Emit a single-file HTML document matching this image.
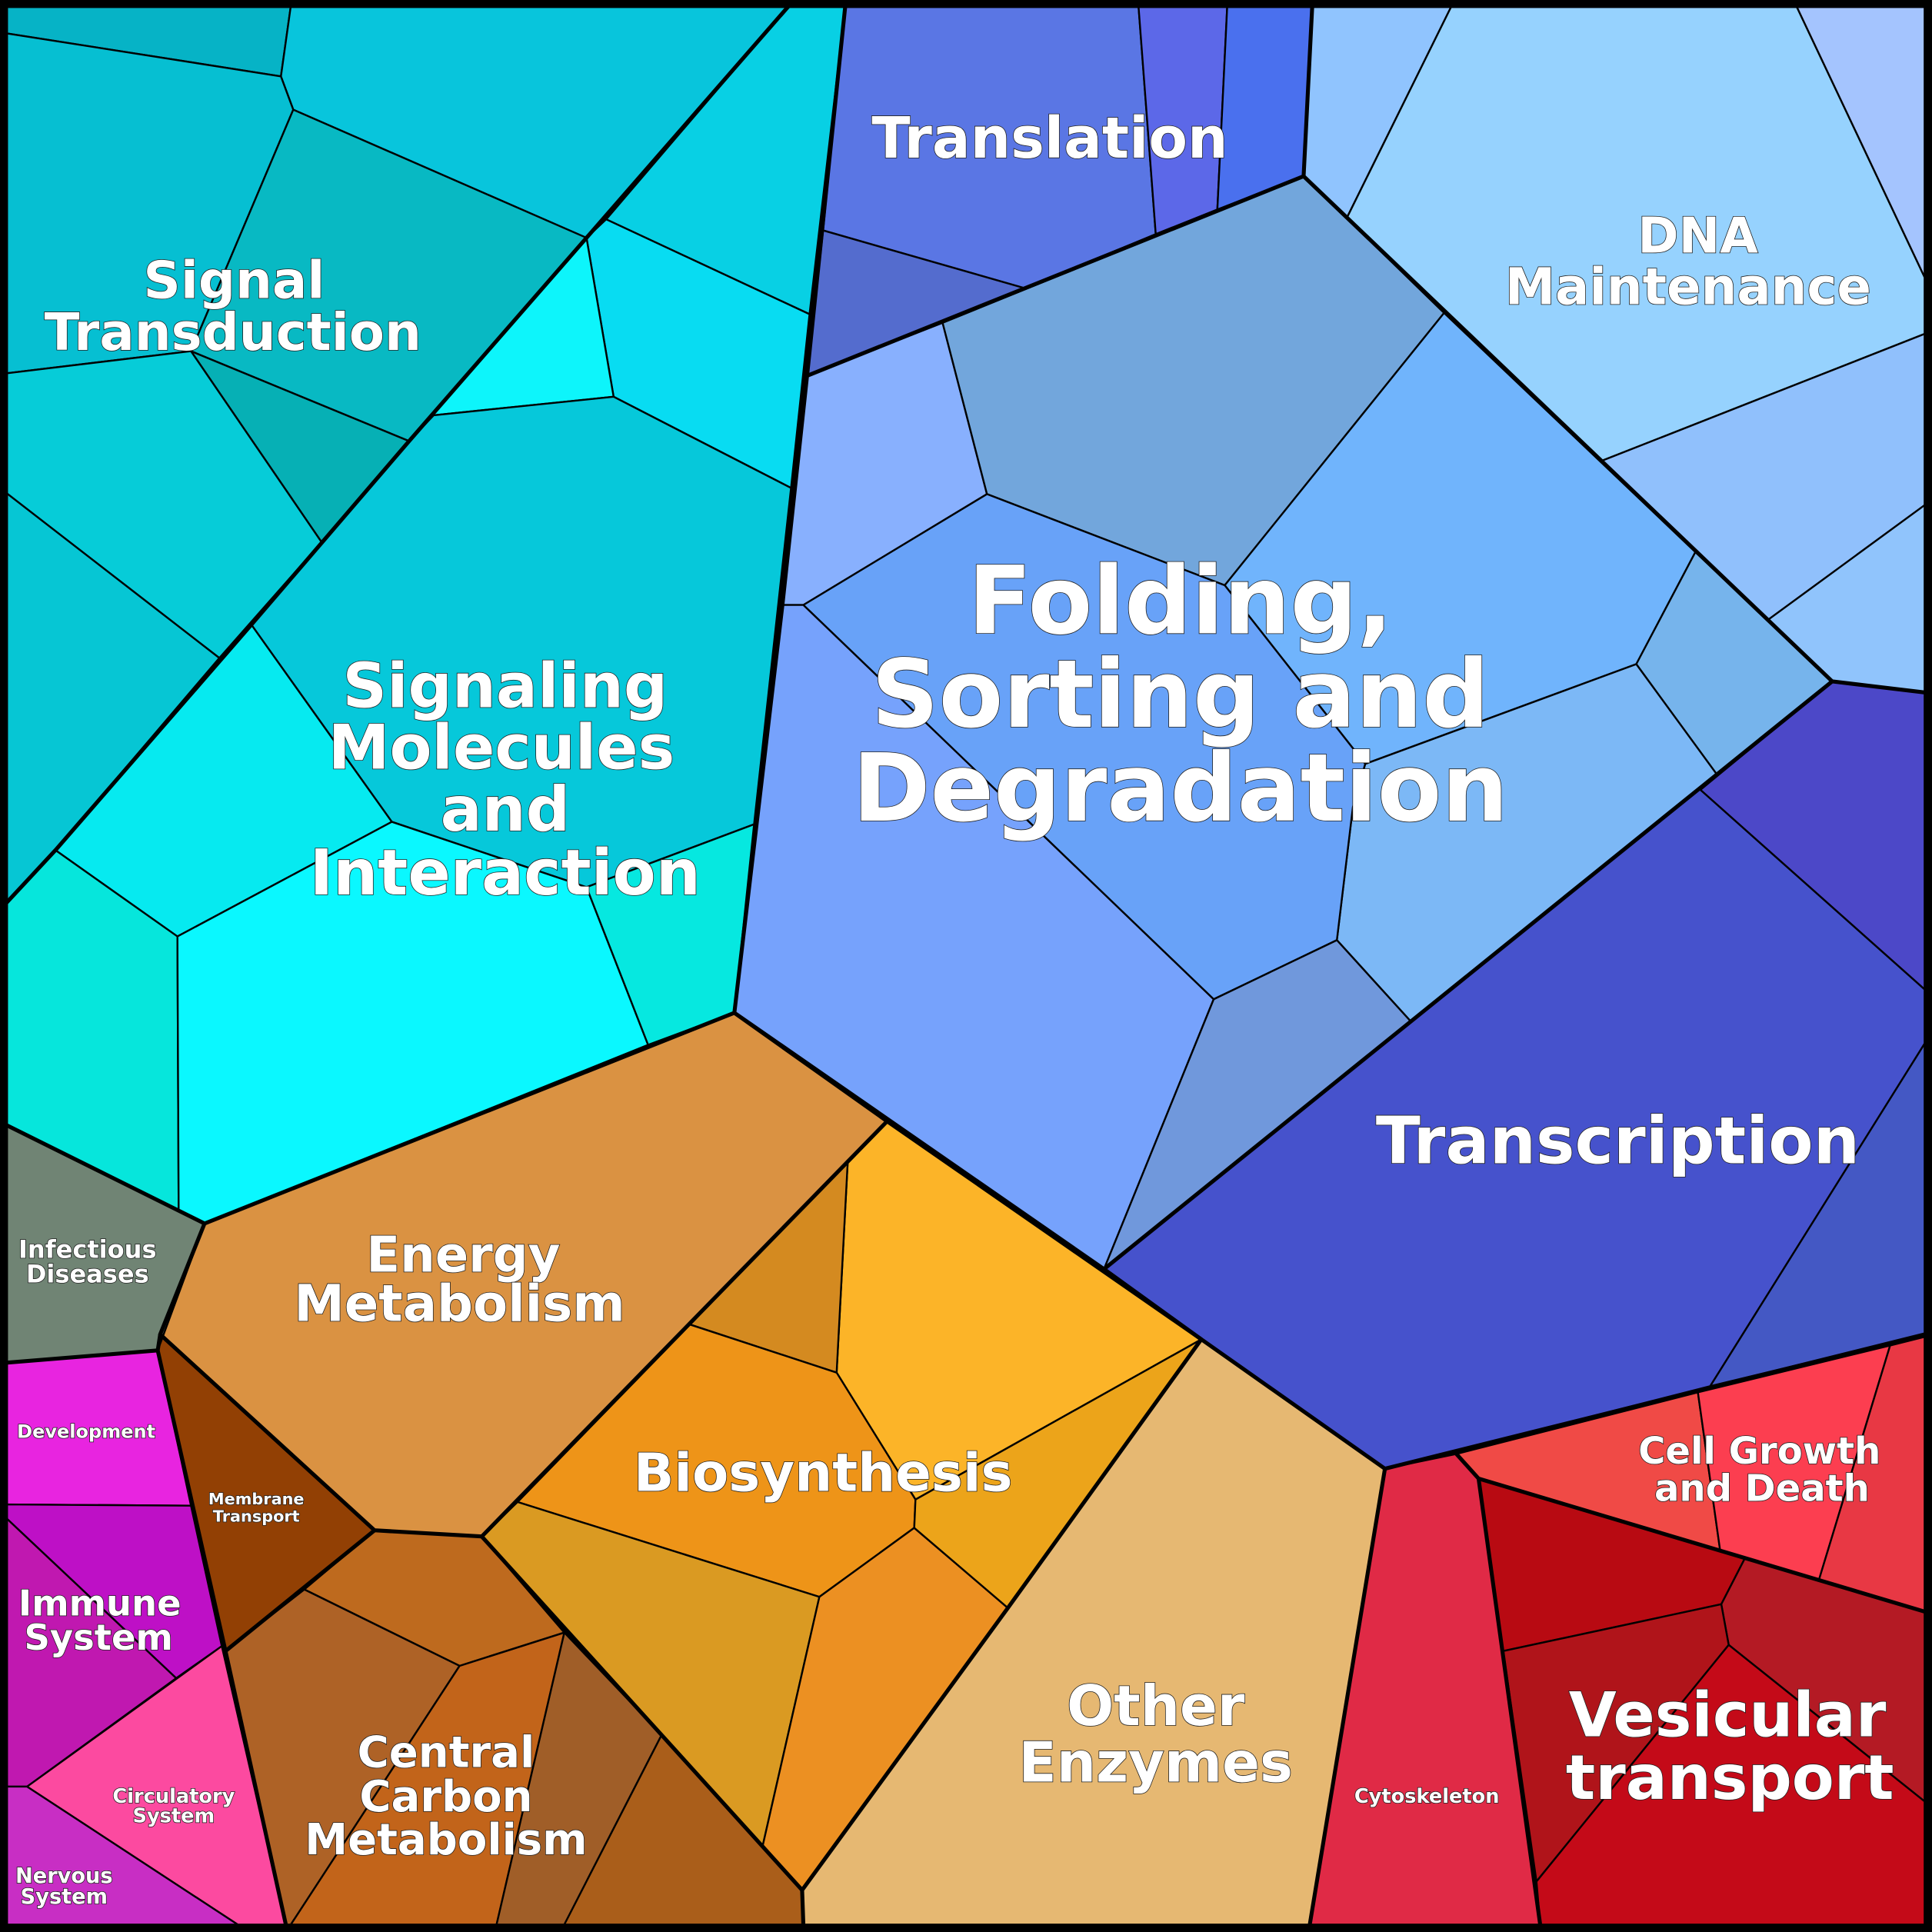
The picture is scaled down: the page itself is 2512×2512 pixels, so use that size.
<!DOCTYPE html>
<html><head><meta charset="utf-8"><style>
html,body{margin:0;padding:0;background:#000;}
svg{display:block;}
text{font-family:"DejaVu Sans","Liberation Sans",sans-serif;font-weight:bold;fill:#fff;stroke:#222;stroke-width:1;paint-order:stroke;text-anchor:middle;}
</style></head><body>
<svg width="2512" height="2512" viewBox="0 0 1568 1568" xmlns="http://www.w3.org/2000/svg">
<rect x="0" y="0" width="1568" height="1568" fill="#000"/>
<g stroke="#000" stroke-width="1.5" stroke-linejoin="round">
<polygon fill="#06b3c6" points="5,5 236,5 228,62 5,27"/>
<polygon fill="#08c5dc" points="236,5 640,5 476,193 238,89 228,62"/>
<polygon fill="#06bfd2" points="5,27 228,62 238,89 155,285 5,303"/>
<polygon fill="#08b9c3" points="238,89 476,193 332,358 155,285"/>
<polygon fill="#06b0b5" points="155,285 332,358 261,440"/>
<polygon fill="#06ccd8" points="5,303 155,285 261,440 178,534 5,400"/>
<polygon fill="#06c6d4" points="5,400 178,534 45,690 5,733"/>
<polygon fill="#08d0e4" points="640,5 686,5 657,255 492,178"/>
<polygon fill="#08dcf2" points="492,178 657,255 642,396 498,322 476,193"/>
<polygon fill="#0df5fb" points="476,193 498,322 352,337 332,358"/>
<polygon fill="#06c8da" points="352,337 498,322 642,396 612,669 476,720 318,667 204,507 332,358"/>
<polygon fill="#06eaf0" points="204,507 318,667 144,760 45,690"/>
<polygon fill="#06e6dc" points="45,690 144,760 145,983 5,913 5,733"/>
<polygon fill="#0af8ff" points="144,760 318,667 476,720 526,848 166,993 145,983"/>
<polygon fill="#06e8e0" points="476,720 612,669 596,822 526,848"/>
<polygon fill="#5a76e4" points="686,5 924,5 938,190 832,234 668,187"/>
<polygon fill="#5c68e8" points="924,5 996,5 988,170 938,190"/>
<polygon fill="#4a70ee" points="996,5 1065,5 1058,143 988,170"/>
<polygon fill="#546cce" points="668,187 832,234 655,305"/>
<polygon fill="#90c4fe" points="1065,5 1178,5 1093,177 1058,143"/>
<polygon fill="#96d2fe" points="1178,5 1458,5 1562,225 1562,271 1300,374 1172,254 1093,177"/>
<polygon fill="#a4c4fe" points="1458,5 1562,5 1562,225"/>
<polygon fill="#90c0fc" points="1300,374 1562,271 1562,410 1435,503 1376,448"/>
<polygon fill="#90c4fc" points="1435,503 1562,410 1562,562 1487,553"/>
<polygon fill="#88b0fe" points="655,305 765,262 801,401 652,491 635,491"/>
<polygon fill="#72a6dc" points="765,262 1058,143 1172,254 994,475 801,401"/>
<polygon fill="#70b4fc" points="1172,254 1376,448 1328,539 1108,620 994,475"/>
<polygon fill="#76b4ec" points="1376,448 1487,553 1393,628 1328,539"/>
<polygon fill="#7cb8f6" points="1108,620 1328,539 1393,628 1145,829 1085,763 1098,655"/>
<polygon fill="#68a2f8" points="652,491 801,401 994,475 1108,620 1098,655 1085,763 985,811"/>
<polygon fill="#76a2fc" points="635,491 652,491 985,811 896,1030 596,822"/>
<polygon fill="#7098dc" points="985,811 1085,763 1145,829 896,1030"/>
<polygon fill="#4c48c8" points="1487,553 1562,562 1562,803 1380,641"/>
<polygon fill="#4652cc" points="1380,641 1562,803 1562,847 1388,1125 1124,1192 896,1030 1145,829 1393,628 1487,553"/>
<polygon fill="#4458c4" points="1562,847 1562,1083 1388,1125"/>
<polygon fill="#f04a46" points="1182,1180 1378,1130 1396,1258 1200,1200"/>
<polygon fill="#fc3e50" points="1378,1130 1534,1092 1476,1283 1396,1258"/>
<polygon fill="#e83844" points="1534,1092 1562,1085 1562,1308 1476,1283"/>
<polygon fill="#e02a46" points="1124,1192 1182,1180 1200,1200 1250,1562 1063,1562"/>
<polygon fill="#b80a12" points="1200,1200 1416,1265 1397,1302 1220,1340"/>
<polygon fill="#b41a24" points="1416,1265 1562,1308 1562,1462 1403,1335 1397,1302"/>
<polygon fill="#b0141a" points="1220,1340 1397,1302 1403,1335 1247,1527"/>
<polygon fill="#c40a18" points="1403,1335 1562,1462 1562,1562 1250,1562 1247,1527"/>
<polygon fill="#e6b872" points="975,1087 1124,1192 1063,1562 652,1562 651,1534 818,1305"/>
<polygon fill="#fcb428" points="688,943 720,910 975,1087 743,1217 679,1114"/>
<polygon fill="#d48a20" points="688,943 679,1114 560,1075"/>
<polygon fill="#ee9418" points="560,1075 679,1114 743,1217 742,1240 665,1296 420,1219"/>
<polygon fill="#da9a22" points="391,1247 420,1219 665,1296 619,1498 651,1534"/>
<polygon fill="#ec9022" points="665,1296 742,1240 818,1305 651,1534 619,1498"/>
<polygon fill="#eca41a" points="743,1217 975,1087 818,1305 742,1240"/>
<polygon fill="#da9242" points="720,910 688,943 560,1075 420,1219 391,1247"/>
<polygon fill="#da9242" points="166,993 596,822 720,910 391,1247 304,1242 130,1083"/>
<polygon fill="#be6a1e" points="304,1242 391,1247 458,1325 373,1352 247,1290"/>
<polygon fill="#ae6226" points="183,1340 247,1290 373,1352 236,1562 232,1562"/>
<polygon fill="#c2641a" points="373,1352 458,1325 403,1562 236,1562"/>
<polygon fill="#a05e28" points="458,1325 537,1408 458,1562 403,1562"/>
<polygon fill="#aa5e1a" points="537,1408 651,1534 652,1562 458,1562"/>
<polygon fill="#924004" points="130,1083 304,1242 183,1340 128,1096"/>
<polygon fill="#708474" points="5,913 166,993 128,1096 5,1106"/>
<polygon fill="#e824e0" points="5,1106 128,1096 155,1222 5,1221"/>
<polygon fill="#be10c6" points="5,1221 155,1222 180,1336 143,1362 5,1232"/>
<polygon fill="#c018b0" points="5,1232 143,1362 22,1450 5,1450"/>
<polygon fill="#fc4aa0" points="22,1450 180,1336 232,1562 193,1562"/>
<polygon fill="#c82ec4" points="5,1450 22,1450 193,1562 5,1562"/>
</g>
<g fill="none" stroke="#000" stroke-width="3.2" stroke-linejoin="round">
<polyline points="640,5 476,193 332,358 204,507 45,690 5,733"/>
<polyline points="686,5 655,305 635,491 596,822 166,993 5,913"/>
<polyline points="655,305 1058,143 1065,5"/>
<polyline points="1058,143 1487,553 1562,562"/>
<polyline points="1487,553 896,1030 596,822 720,910 975,1087 1124,1192 1562,1083"/>
<polyline points="896,1030 975,1087"/>
<polyline points="720,910 391,1247 651,1534 818,1305 975,1087"/>
<polyline points="651,1534 652,1562"/>
<polyline points="1124,1192 1063,1562"/>
<polyline points="1182,1180 1200,1200 1562,1308"/>
<polyline points="1200,1200 1250,1562"/>
<polyline points="166,993 130,1083 304,1242 391,1247"/>
<polyline points="304,1242 183,1340 128,1096 130,1083"/>
<polyline points="183,1340 232,1562"/>
<polyline points="5,1106 128,1096"/>
</g>
<rect x="3" y="3" width="1562" height="1562" fill="none" stroke="#000" stroke-width="7"/>
<text x="190" y="242" font-size="42">Signal</text>
<text x="189" y="284" font-size="42">Transduction</text>
<text x="410" y="574" font-size="50">Signaling</text>
<text x="407" y="624" font-size="50">Molecules</text>
<text x="410" y="674" font-size="50">and</text>
<text x="410" y="726" font-size="51">Interaction</text>
<text x="852" y="128" font-size="46">Translation</text>
<text x="1378" y="205" font-size="40">DNA</text>
<text x="1370" y="247" font-size="41">Maintenance</text>
<text x="958" y="514" font-size="76">Folding,</text>
<text x="958" y="590" font-size="76">Sorting and</text>
<text x="958" y="666" font-size="76">Degradation</text>
<text x="1313" y="944" font-size="53">Transcription</text>
<text x="1428" y="1188" font-size="30">Cell Growth</text>
<text x="1430" y="1218" font-size="30">and Death</text>
<text x="1402" y="1409" font-size="50">Vesicular</text>
<text x="1404" y="1460" font-size="50">transport</text>
<text x="1158" y="1463" font-size="16">Cytoskeleton</text>
<text x="938" y="1400" font-size="45">Other</text>
<text x="938" y="1446" font-size="45">Enzymes</text>
<text x="668" y="1210" font-size="43">Biosynthesis</text>
<text x="376" y="1032" font-size="40">Energy</text>
<text x="373" y="1072" font-size="41">Metabolism</text>
<text x="362" y="1434" font-size="35">Central</text>
<text x="362" y="1470" font-size="35">Carbon</text>
<text x="362" y="1505" font-size="35">Metabolism</text>
<text x="208" y="1221" font-size="13">Membrane</text>
<text x="208" y="1235" font-size="13">Transport</text>
<text x="71" y="1021" font-size="20">Infectious</text>
<text x="71" y="1041" font-size="20">Diseases</text>
<text x="70" y="1167" font-size="15">Development</text>
<text x="81" y="1311" font-size="29">Immune</text>
<text x="80" y="1339" font-size="29">System</text>
<text x="141" y="1463" font-size="16">Circulatory</text>
<text x="141" y="1479" font-size="16">System</text>
<text x="52" y="1528" font-size="17">Nervous</text>
<text x="52" y="1545" font-size="17">System</text>
</svg>
</body></html>
